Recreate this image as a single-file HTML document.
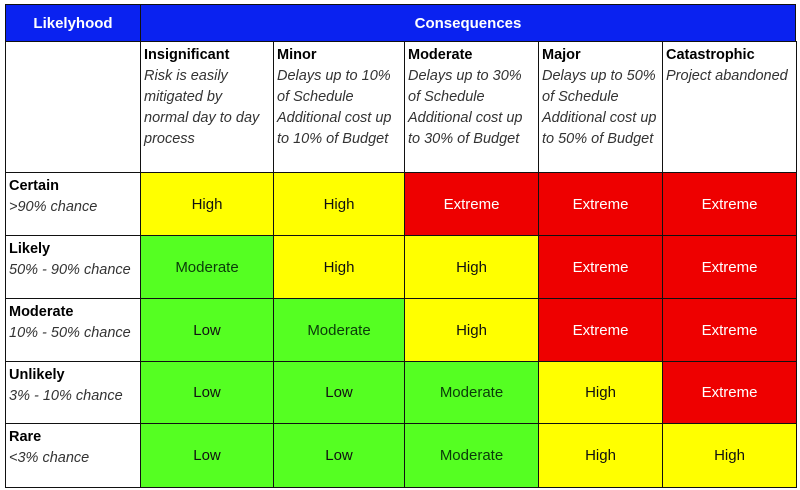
<!DOCTYPE html>
<html><head><meta charset="utf-8"><style>
body{margin:0;width:800px;height:490px;background:#fff;overflow:hidden;font-family:"Liberation Sans",sans-serif;}
#m{position:absolute;left:0;top:0;width:800px;height:490px;}
.c{position:absolute;box-sizing:border-box;border:1px solid #111;}
.hd{background:#0a22f0;color:#fff;font-weight:bold;font-size:15px;display:flex;align-items:center;justify-content:center;}
.sub{padding:3px 3px;font-size:14.5px;line-height:21px;color:#222;}
.sub b{color:#000;}
.sub i{color:#333;}
.lk{padding:3px 3px;font-size:14.5px;line-height:21px;}
.cell{display:flex;align-items:center;justify-content:center;font-size:15px;}
</style></head><body>
<div id="m">
<div class="c hd" style="left:5px;top:4px;width:136px;height:38px">Likelyhood</div>
<div class="c hd" style="left:140px;top:4px;width:656px;height:38px">Consequences</div>
<div class="c" style="left:5px;top:41px;width:136px;height:132px"></div>
</div>
<script>
const colX=[140,273,404,538,662,796];
const rowY=[172,235,298,361,423,487];
const consequences=["Insignificant","Minor","Moderate","Major","Catastrophic"];
const consDesc=["Risk is easily mitigated by normal day to day process","Delays up to 10% of Schedule Additional cost up to 10% of Budget","Delays up to 30% of Schedule Additional cost up to 30% of Budget","Delays up to 50% of Schedule Additional cost up to 50% of Budget","Project abandoned"];
const likelihoods=["Certain","Likely","Moderate","Unlikely","Rare"];
const likeDesc=[">90% chance","50% - 90% chance","10% - 50% chance","3% - 10% chance","<3% chance"];
const ratings=[
["High","High","Extreme","Extreme","Extreme"],
["Moderate","High","High","Extreme","Extreme"],
["Low","Moderate","High","Extreme","Extreme"],
["Low","Low","Moderate","High","Extreme"],
["Low","Low","Moderate","High","High"]];
const colors={Low:["#55ff22","#111"],Moderate:["#55ff22","#0a3a0a"],High:["#ffff00","#111"],Extreme:["#ee0000","#fff"]};
const m=document.getElementById('m');
function box(x,y,w,h,cls){const d=document.createElement('div');d.className='c '+cls;d.style.left=x+'px';d.style.top=y+'px';d.style.width=(w+1)+'px';d.style.height=(h+1)+'px';m.appendChild(d);return d;}
consequences.forEach((c,i)=>{
 const d=box(colX[i],41,colX[i+1]-colX[i],131,'sub');
 
 
 d.innerHTML='<b>'+c+'</b><br><i>'+consDesc[i]+'</i>';
});
likelihoods.forEach((l,r)=>{
 const d=box(5,rowY[r],135,rowY[r+1]-rowY[r],'lk');
 
 
 d.innerHTML='<b>'+l+'</b><br><i style="color:#333">'+likeDesc[r].replace('<','&lt;').replace('>','&gt;')+'</i>';
 ratings[r].forEach((v,c)=>{
  const e=box(colX[c],rowY[r],colX[c+1]-colX[c],rowY[r+1]-rowY[r],'cell');
  
  
  e.style.background=colors[v][0];e.style.color=colors[v][1];
  e.textContent=v;
 });
});
</script>
</body></html>
